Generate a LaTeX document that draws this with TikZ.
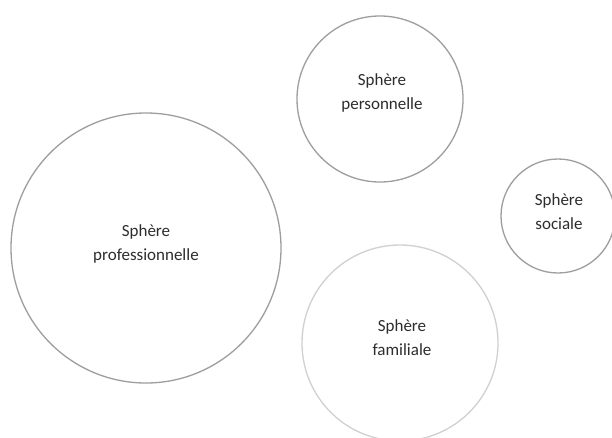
\documentclass[tikz,border=0pt]{standalone}
\usepackage{fontspec}
\setmainfont{Carlito}
\usepackage{tikz}
\usepackage{xcolor}
\definecolor{ringgray}{RGB}{158,158,158}
\definecolor{ringlight}{RGB}{208,208,208}
\definecolor{textgray}{RGB}{45,45,45}

\begin{document}
\begin{tikzpicture}[x=1pt,y=-1pt,
  ring/.style={draw=ringgray, line width=1.3pt},
  spheretext/.style={align=center, text=textgray, font=\fontsize{17}{24}\selectfont}]
% page frame
\fill[white] (0,0) rectangle (612,437);
\useasboundingbox (0,0) rectangle (612,437);

% the four spheres
\draw[ring] (146,248) circle[radius=135pt];
\node[spheretext] (pro) at (146,244) {Sphère\\professionnelle};

\draw[ring] (380,99) circle[radius=83pt];
\node[spheretext] (perso) at (382,93) {Sphère\\personnelle};

\draw[ring] (558,216) circle[radius=57pt];
\node[spheretext] (soc) at (559,212) {Sphère\\sociale};

\draw[ring, draw=ringlight] (400,343) circle[radius=98pt];
\node[spheretext] (fam) at (402,338) {Sphère\\familiale};
\end{tikzpicture}
\end{document}
